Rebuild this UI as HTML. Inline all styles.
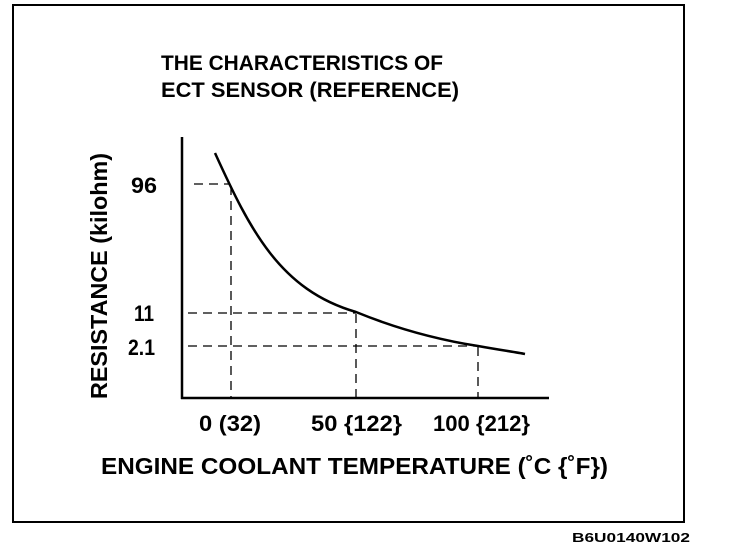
<!DOCTYPE html>
<html><head><style>
body{margin:0;background:#fff;}
svg text{font-family:"Liberation Sans",sans-serif;fill:#000;font-weight:bold;}
</style></head><body>
<svg width="736" height="554" viewBox="0 0 736 554">
<rect x="13" y="5" width="671" height="517" fill="none" stroke="#000" stroke-width="2"/>
<text x="161" y="70" font-size="21" textLength="282" lengthAdjust="spacingAndGlyphs">THE CHARACTERISTICS OF</text>
<text x="161" y="97" font-size="21" textLength="298" lengthAdjust="spacingAndGlyphs">ECT SENSOR (REFERENCE)</text>
<line x1="182" y1="137" x2="182" y2="399" stroke="#000" stroke-width="2.5"/>
<line x1="181" y1="398" x2="549" y2="398" stroke="#000" stroke-width="2.5"/>
<g stroke="#000" stroke-width="1.3" stroke-dasharray="9,6" fill="none">
<line x1="194" y1="184" x2="230" y2="184"/>
<line x1="188" y1="313" x2="356" y2="313"/>
<line x1="188" y1="346" x2="478" y2="346"/>
<line x1="231" y1="186" x2="231" y2="398"/>
<line x1="356" y1="314" x2="356" y2="398"/>
<line x1="478" y1="347" x2="478" y2="398"/>
</g>
<path d="M215,153 C250,230 280,290 356,312 C400,330 440,340 478,346 C500,350 515,352 525,354" fill="none" stroke="#000" stroke-width="2.5"/>
<text x="131" y="193" font-size="22" textLength="26" lengthAdjust="spacingAndGlyphs">96</text>
<text x="134" y="321" font-size="22" textLength="20" lengthAdjust="spacingAndGlyphs">11</text>
<text x="128" y="355" font-size="22" textLength="27" lengthAdjust="spacingAndGlyphs">2.1</text>
<text x="199" y="431" font-size="22" textLength="62" lengthAdjust="spacingAndGlyphs">0 (32)</text>
<text x="311" y="431" font-size="22" textLength="91" lengthAdjust="spacingAndGlyphs">50 {122}</text>
<text x="433" y="431" font-size="22" textLength="97" lengthAdjust="spacingAndGlyphs">100 {212}</text>
<text x="101" y="474" font-size="23" textLength="507" lengthAdjust="spacingAndGlyphs">ENGINE COOLANT TEMPERATURE (˚C {˚F})</text>
<text transform="translate(107,399) rotate(-90)" font-size="23" textLength="246" lengthAdjust="spacingAndGlyphs">RESISTANCE (kilohm)</text>
<text x="572" y="542" font-size="13" textLength="118" lengthAdjust="spacingAndGlyphs">B6U0140W102</text>
</svg>
</body></html>
